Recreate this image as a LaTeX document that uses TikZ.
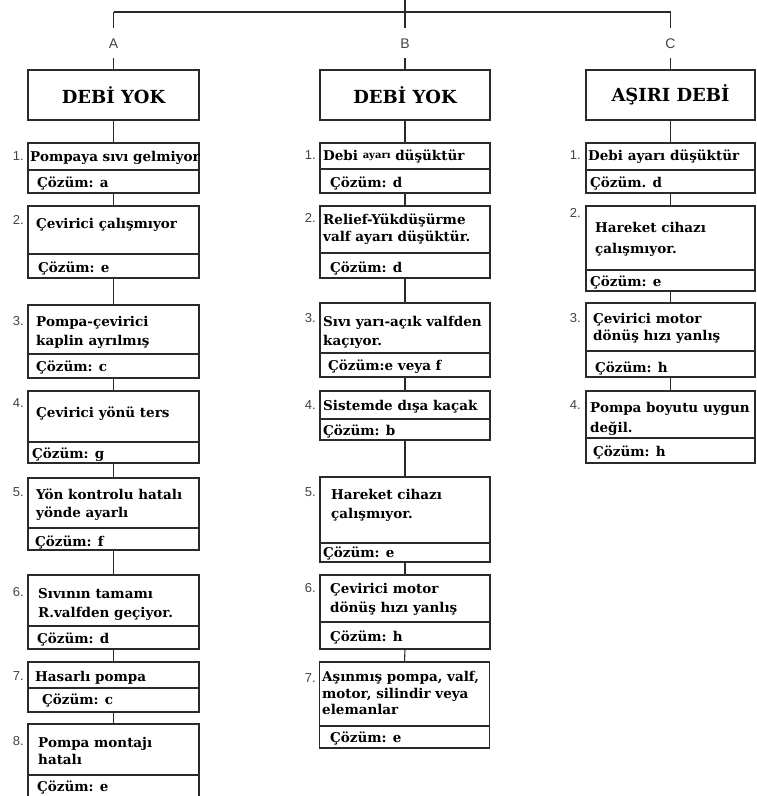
\documentclass[tikz,border=0pt]{standalone}
\usepackage{fontspec}
\setmainfont{DejaVu Serif}
\newfontfamily\numfont{Liberation Sans}
\definecolor{linec}{HTML}{2A2A2A}
\definecolor{numc}{HTML}{444444}
\tikzset{
  cell/.style={draw=linec, line width=1.1pt, inner sep=0pt},
  conn/.style={draw=linec, line width=1.1pt},
  txt/.style={inner sep=0pt, anchor=west, font=\bfseries\fontsize{13.5}{15}\selectfont, text height=10pt, text depth=0pt},
  num/.style={inner sep=0pt, anchor=east, font=\numfont\fontsize{13}{15}\selectfont, text=numc, text height=9pt, text depth=0pt},
  hdr/.style={font=\bfseries\fontsize{18}{20}\selectfont},
  lab/.style={font=\numfont\fontsize{14}{16}\selectfont, text=numc, inner xsep=0pt, inner ysep=10pt, text height=10pt, text depth=0pt}
}
\newcommand\pbox[6]{%
  \node[cell, minimum width=#3pt, minimum height={#5pt-#4pt}] (#1) at (#2,{(#4+#5)/2}) {};
  \node[cell, minimum width=#3pt, minimum height={#6pt-#5pt}] (#1c) at (#2,{(#5+#6)/2}) {};
}
\newcommand\tx[4]{\node[txt] (#1) at (#2,#3) {#4};}
\newcommand\nm[4]{\node[num] (#1) at (#2,#3) {#4};}
\begin{document}
\begin{tikzpicture}[x=1pt,y=-1pt]
\useasboundingbox (0,0) rectangle (757,796);
% top tree
\coordinate (t0) at (405,0);
\coordinate (j0) at (405,12);
\coordinate (jA) at (113.5,12);
\coordinate (jC) at (670.5,12);
\node[lab] (labA) at (113.5,43) {A};
\node[lab] (labB) at (405,43) {B};
\node[lab] (labC) at (670.5,43) {C};
\node[cell, hdr, minimum width=171pt, minimum height=50pt] (hA) at (113.5,95) {DEBİ YOK};
\node[cell, hdr, minimum width=170pt, minimum height=50pt] (hB) at (405,95) {DEBİ YOK};
\node[cell, hdr, minimum width=169pt, minimum height=50pt] (hC) at (670.5,95) {AŞIRI DEBİ};
\draw[conn] (t0) -- (j0);
\draw[conn] (jA) -- (jC);
\draw[conn] (jA) -- (labA.north);
\draw[conn] (j0) -- (labB.north);
\draw[conn] (jC) -- (labC.north);
\draw[conn] (labA.south) -- (hA.north);
\draw[conn] (labB.south) -- (hB.north);
\draw[conn] (labC.south) -- (hC.north);
% column A
\pbox{a1}{113.5}{171}{143}{170}{193}
\tx{a1t}{30}{156}{Pompaya sıvı gelmiyor}
\tx{a1s}{37}{182}{Çözüm: a}
\nm{a1n}{24}{156}{1.}
\pbox{a2}{113.5}{171}{206}{254}{278}
\tx{a2t}{36}{223}{Çevirici çalışmıyor}
\tx{a2s}{38}{267}{Çözüm: e}
\nm{a2n}{24}{220}{2.}
\pbox{a3}{113.5}{171}{305}{354}{378}
\tx{a3t}{36}{321}{Pompa-çevirici}
\tx{a3u}{36}{340}{kaplin ayrılmış}
\tx{a3s}{36}{366}{Çözüm: c}
\nm{a3n}{24}{321}{3.}
\pbox{a4}{113.5}{171}{391}{442}{463}
\tx{a4t}{36}{412}{Çevirici yönü ters}
\tx{a4s}{32}{453}{Çözüm: g}
\nm{a4n}{24}{403}{4.}
\pbox{a5}{113.5}{171}{478}{528}{550}
\tx{a5t}{36}{494}{Yön kontrolu hatalı}
\tx{a5u}{36}{512}{yönde ayarlı}
\tx{a5s}{35}{541}{Çözüm: f}
\nm{a5n}{24}{492}{5.}
\pbox{a6}{113.5}{171}{575}{626}{649}
\tx{a6t}{38}{593}{Sıvının tamamı}
\tx{a6u}{38}{612}{R.valfden geçiyor.}
\tx{a6s}{37}{638}{Çözüm: d}
\nm{a6n}{24}{592}{6.}
\pbox{a7}{113.5}{171}{662}{688}{712}
\tx{a7t}{35}{676}{Hasarlı pompa}
\tx{a7s}{42}{699}{Çözüm: c}
\nm{a7n}{24}{676}{7.}
\pbox{a8}{113.5}{171}{724}{775}{797}
\tx{a8t}{38}{742}{Pompa montajı}
\tx{a8u}{38}{759}{hatalı}
\tx{a8s}{37}{786}{Çözüm: e}
\nm{a8n}{24}{741}{8.}
% column B
\pbox{b1}{405}{170}{143}{169}{193}
\tx{b1t}{323}{155}{Debi \raisebox{1.5pt}{\fontsize{10}{10}\selectfont ayarı} düşüktür}
\tx{b1s}{330}{182}{Çözüm: d}
\nm{b1n}{316}{155}{1.}
\pbox{b2}{405}{170}{206}{253}{278}
\tx{b2t}{323}{219}{Relief-Yükdüşürme}
\tx{b2u}{323}{236}{valf ayarı düşüktür.}
\tx{b2s}{330}{267}{Çözüm: d}
\nm{b2n}{316}{218}{2.}
\pbox{b3}{405}{170}{303}{353}{377}
\tx{b3t}{323}{321}{Sıvı yarı-açık valfden}
\tx{b3u}{323}{340}{kaçıyor.}
\tx{b3s}{328}{365}{Çözüm:e veya f}
\nm{b3n}{316}{318}{3.}
\pbox{b4}{405}{170}{391}{419}{440}
\tx{b4t}{323}{405}{Sistemde dışa kaçak}
\tx{b4s}{323}{430}{Çözüm: b}
\nm{b4n}{316}{405}{4.}
\pbox{b5}{405}{170}{477}{543}{562}
\tx{b5t}{331}{494}{Hareket cihazı}
\tx{b5u}{331}{513}{çalışmıyor.}
\tx{b5s}{323}{552}{Çözüm: e}
\nm{b5n}{316}{492}{5.}
\pbox{b6}{405}{170}{575}{622}{649}
\tx{b6t}{330}{588}{Çevirici motor}
\tx{b6u}{330}{607}{dönüş hızı yanlış}
\tx{b6s}{330}{636}{Çözüm: h}
\nm{b6n}{316}{588}{6.}
\pbox{b7}{404.5}{170}{662}{726}{748}
\tx{b7t}{322}{676}{Aşınmış pompa, valf,}
\tx{b7u}{322}{693}{motor, silindir veya}
\tx{b7v}{322}{709}{elemanlar}
\tx{b7s}{330}{737}{Çözüm: e}
\nm{b7n}{316}{678}{7.}
% column C
\pbox{c1}{670.5}{169}{143}{170}{193}
\tx{c1t}{588}{155}{Debi ayarı düşüktür}
\tx{c1s}{590}{182}{Çözüm. d}
\nm{c1n}{581}{155}{1.}
\pbox{c2}{670.5}{169}{206}{270}{291}
\tx{c2t}{595}{227}{Hareket cihazı}
\tx{c2u}{595}{248}{çalışmıyor.}
\tx{c2s}{590}{281}{Çözüm: e}
\nm{c2n}{581}{213}{2.}
\pbox{c3}{670.5}{169}{303}{351}{377}
\tx{c3t}{593}{318}{Çevirici motor}
\tx{c3u}{593}{335}{dönüş hızı yanlış}
\tx{c3s}{595}{367}{Çözüm: h}
\nm{c3n}{581}{318}{3.}
\pbox{c4}{670.5}{169}{391}{438}{463}
\tx{c4t}{590}{407}{Pompa boyutu uygun}
\tx{c4u}{590}{427}{değil.}
\tx{c4s}{593}{451}{Çözüm: h}
\nm{c4n}{581}{405}{4.}
% connectors
\draw[conn] (hA.south) -- (a1.north);
\draw[conn] (a1c.south) -- (a2.north);
\draw[conn] (a2c.south) -- (a3.north);
\draw[conn] (a3c.south) -- (a4.north);
\draw[conn] (a4c.south) -- (a5.north);
\draw[conn] (a5c.south) -- (a6.north);
\draw[conn] (a6c.south) -- (a7.north);
\draw[conn] (a7c.south) -- (a8.north);
\draw[conn] (hB.south) -- (b1.north);
\draw[conn] (b1c.south) -- (b2.north);
\draw[conn] (b2c.south) -- (b3.north);
\draw[conn] (b3c.south) -- (b4.north);
\draw[conn] (b4c.south) -- (b5.north);
\draw[conn] (b5c.south) -- (b6.north);
\draw[conn] (b6c.south) -- (b7.north);
\draw[conn] (hC.south) -- (c1.north);
\draw[conn] (c1c.south) -- (c2.north);
\draw[conn] (c2c.south) -- (c3.north);
\draw[conn] (c3c.south) -- (c4.north);
\end{tikzpicture}
\end{document}
